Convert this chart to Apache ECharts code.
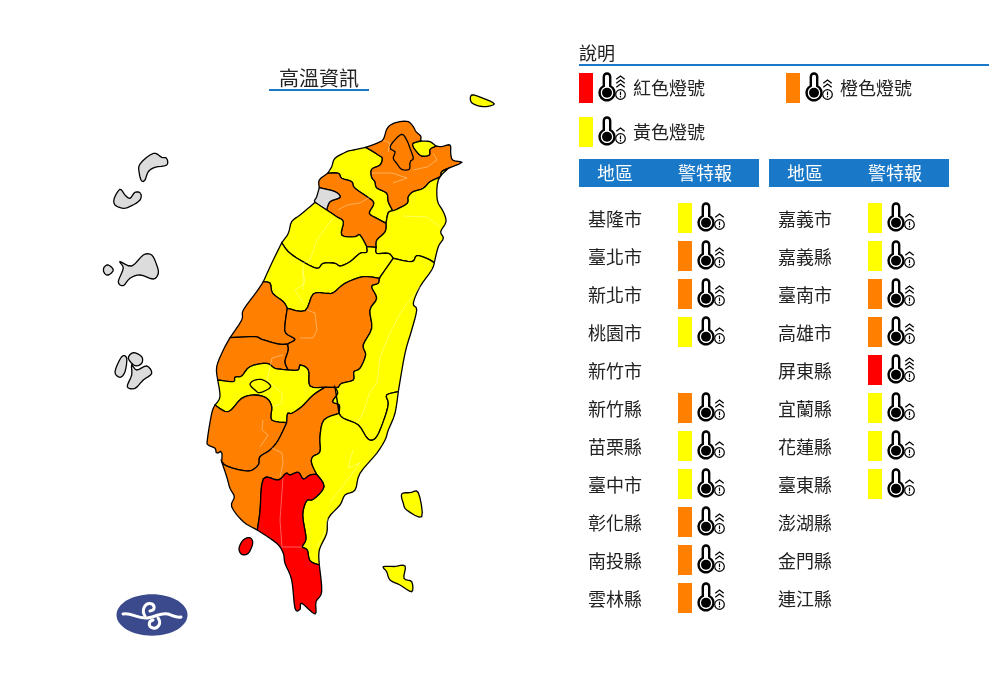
<!DOCTYPE html>
<html>
<head>
<meta charset="utf-8">
<title>高溫資訊</title>
<script src="https://cdn.jsdelivr.net/npm/echarts@6/dist/echarts.min.js"></script>
<style>
html, body { margin: 0; padding: 0; background: #fff; }
#chart { width: 997px; height: 699px; }
</style>
</head>
<body>
<div id="chart"></div>
<script>
// 0 = no alert, 1 = yellow, 2 = orange, 3 = red
var regionsLeft = ['基隆市', '臺北市', '新北市', '桃園市', '新竹市', '新竹縣', '苗栗縣', '臺中市', '彰化縣', '南投縣', '雲林縣'];
var levelsLeft = [1, 2, 2, 1, 0, 2, 1, 1, 2, 2, 2];
var regionsRight = ['嘉義市', '嘉義縣', '臺南市', '高雄市', '屏東縣', '宜蘭縣', '花蓮縣', '臺東縣', '澎湖縣', '金門縣', '連江縣'];
var levelsRight = [1, 1, 2, 2, 3, 1, 1, 1, 0, 0, 0];
var legendNames = ['紅色燈號', '橙色燈號', '黃色燈號'];
var legendLevels = [3, 2, 1];
var levelColors = ['#dcdcdc', '#ffff00', '#ff8000', '#ff0000'];

// county outlines, traced in page pixels; shared borders are kept once
var tyCoast = [[365.7,147.3],[353.3,150],[346.7,151.7],[335,158.3],[331.7,166.7],[327.7,173.3]];
var tyHc = [[327.7,173.3],[338.3,173.3],[341.7,178.3],[351.7,181.7],[355,188.3],[371.7,200],[373.3,205],[369.3,213.3],[376.7,218.3],[386,223.3]];
var tyYl = [[386,223.3],[388.3,212.7],[392.7,210.7]];
var tyNtp = [[392.7,210.7],[388.3,201.7],[386.7,193.3],[376.7,187.7],[375,181.7],[371.7,177.3],[371.7,169.3],[380,165],[382.3,158.3],[378.3,155],[373.3,151.7],[365.7,147.3]];
var ntpNorth = [[365.7,147.3],[376.7,143.3],[383.3,139.3],[386.7,129.3],[391.7,124.3],[400,121.7],[408.3,121.7],[413.3,126.7],[416,131.7],[420.7,136],[420.7,140],[421.7,141]];
var klInner = [[421.7,141],[413.3,143.3],[413.3,146.7],[416.7,151.7],[421.7,156],[429.3,155],[430,149.3],[436,146]];
var klCoast = [[436,146],[430,141.7],[421.7,141]];
var ntpEast = [[436,146],[441.7,146.7],[450,145],[450.7,153.3],[452.7,160],[461.7,162.3],[455,165.7],[448.3,168.3]];
var ntpYl = [[448.3,168.3],[441.7,171.7],[440,176.7],[430,181.7],[423.3,188.3],[413.3,191.7],[408.3,196.7],[407.3,203.3],[396.7,209.3],[392.7,210.7]];
var ylCoast = [[448.3,168.3],[438.3,180],[437.3,200],[443.3,211.7],[446,221.7],[440.7,231.7],[443.3,238.3],[438.3,246.7],[434.3,262.7]];
var ylHl = [[434.3,262.7],[426.7,258.3],[416.7,255.7],[411.7,261.7],[393.3,258.3]];
var ylTc = [[393.3,258.3],[388.3,253.3],[376.7,253.3],[376,247.3]];
var ylHc = [[376,247.3],[376.7,240],[385,231.7],[386,223.3]];
var hcCoast = [[327.7,173.3],[319.3,180],[319.3,187.7]];
var cityInner = [[319.3,187.7],[335,191.7],[340,197.3],[330,201.7],[326.7,210]];
var cityCoast = [[319.3,187.7],[316.7,196.7],[315,202.3],[326.7,210]];
var hcMl = [[326.7,210],[336.7,216.7],[343.3,221.7],[341.7,235],[355,236.7],[360,235],[366.7,246.7]];
var mlCoast = [[315,202.3],[310,206.7],[300,215],[291.7,221.7],[288.3,233.3],[281.7,242.7]];
var mlTc = [[281.7,242.7],[288.3,251.7],[300,260],[316.7,268.3],[323.3,263.3],[335,263.3],[340,266],[350,261.7],[360,253.3],[366.7,252.3],[366.7,246.7]];
var tcCoast = [[281.7,242.7],[271.7,263.3],[263.3,281.7]];
var tcCh = [[263.3,281.7],[270,283.3],[272.7,293.3],[283.3,301.7],[287.3,308.3]];
var tcNt = [[287.3,308.3],[305,310.7],[313.3,294],[326.7,293.3],[333.3,292.7],[345,283.3],[363.3,276.7],[379.3,278.3]];
var tcHl = [[379.3,278.3],[385,270],[393.3,258.3]];
var chCoast = [[263.3,281.7],[256.7,291.7],[243.3,310],[241.7,320],[230,337.7]];
var chYun = [[230,337.7],[255,336.7],[261.7,339.3],[278.3,344],[287.3,344]];
var chNt = [[287.3,344],[295,339.3],[286,333.3],[285,325],[287.3,308.3]];
var yunCoast = [[230,337.7],[223.3,350],[216.7,366.7],[217.7,380]];
var yunCy = [[217.7,380],[233.3,381.7],[235,377.3],[241.7,376],[250,366.7],[266.7,363.3],[275,368.3],[288.3,370]];
var yunNt = [[288.3,370],[285,361.7],[288.3,350],[287.3,344]];
var ntHl = [[379.3,278.3],[378.3,283.3],[371.7,286.7],[376.7,298.3],[370,310],[371.7,328.3],[363.3,345],[365.7,355],[360,368.3],[354,371.7],[353.3,380],[341.7,383.3],[338.3,387.3],[335,387.3]];
var ntKs = [[335,387.3],[325,387.3]];
var ntCy = [[325,387.3],[310,386],[308.3,370],[300,365],[298.3,370],[288.3,370]];
var cyCoast = [[217.7,380],[220,396.7],[215,405]];
var cyTn = [[215,405],[228.3,411.7],[241.7,398.3],[255,395],[266.7,398.3],[271.7,406.7],[271.7,420],[286.7,422.7]];
var cyKs = [[286.7,422.7],[287.7,413.3],[291.7,413.3],[301.7,406.7],[313.3,395],[325,387.3]];
var tnCoast = [[215,405],[211.7,413.3],[207.3,440],[208.3,445],[215,448.3],[216.7,453.3],[221.7,451.7],[221.7,461.7]];
var tnKs = [[221.7,461.7],[228.3,466.7],[248.3,471],[258.3,465],[260,456.7],[270,450],[278.3,440],[286.7,422.7]];
var ksCoast = [[221.7,461.7],[226.7,476.7],[230,488.3],[234.3,496.7],[231.7,506.7],[243.3,521.7],[257.3,530]];
var ksPt = [[257.3,530],[260,511.7],[263.3,479],[278.3,480],[286,473.3],[290,475],[298.3,472.3],[303.3,479],[310,475],[316.7,474.3]];
var ksTt = [[316.7,474.3],[311.7,463.3],[312.7,456.7],[320,451.7],[320,436.7],[324,420],[339,413.3]];
var ksHl = [[339,413.3],[339.3,405],[332.7,401.7],[337.7,393.3],[335,387.3]];
var hlCoast = [[434.3,262.7],[431.7,270],[420,286.7],[413.3,303.3],[416.7,310],[411.7,330],[405,353.3],[398.3,391.7]];
var hlTt = [[398.3,391.7],[386.7,395],[388.3,403.3],[385,416.7],[376.7,436.7],[368.3,439.3],[358.3,425],[343.3,418.3],[339,413.3]];
var ttCoast = [[398.3,391.7],[395,413.3],[388.3,430],[385,440],[376.7,453.3],[360,473.3],[355,490],[345,495],[340,505],[328.3,518.3],[326.7,533.3],[319.3,550],[319.3,565]];
var ttPt = [[319.3,565],[310,560.7],[307.3,550],[302.3,546.7],[306,538.3],[302.7,515],[306.7,500.7],[313.3,499.3],[324,486.7],[316.7,474.3]];
var ptCoast = [[257.3,530],[276.7,543.3],[283.3,553.3],[285,563.3],[291.7,580],[295,608.3],[300,609.3],[301.7,603.3],[315,614],[316,601.7],[321.7,591.7],[319.3,565]];

var taipeiRing = [[401.7,134.3],[406.7,140],[410,148.3],[413.3,158.3],[410,161.7],[409.3,169.3],[401.7,169.3],[396.7,163.3],[393.3,158.3],[395,151.7],[390,148.3],[393.3,141.7]];
var chiayiCityRing = [[250,384.3],[255,380],[263.3,380],[270.7,386.7],[260,392.7],[255,390]];
var liuqiuRing = [[250,537.7],[252.7,543.3],[248.3,553.3],[241.7,554.3],[239,548.3],[243.3,540]];
var greenRing = [[401.7,494],[410,492.7],[418.3,492.7],[421.7,516.7],[406.7,510],[403.3,503.3]];
var orchidRing = [[383.3,566.7],[394,566.5],[405,566],[404,578.3],[411.7,581.7],[411.7,591.7],[400,585],[390,580],[386.7,571.7]];
var guishanRing = [[471.7,95],[483.3,98.3],[494.3,104],[483.3,106.7],[471.7,102.7]];
var matsuRings = [
    [[153.3,153.3],[161.7,157.3],[166.7,158.3],[166.7,165],[155,167.3],[148.3,171.7],[145,180],[141.7,181],[139.3,173.3],[140,164]],
    [[120,189.3],[125,195],[130,198.3],[135,192.3],[140.7,193.3],[140,200],[131.7,205.7],[123.3,208.3],[115,205],[114.3,198.3]]
];
var kinmenRings = [
    [[108.3,265],[113.3,270],[108.3,275],[104,272.7],[104,267.3]],
    [[120,261.7],[131.7,266],[143.3,255],[151.7,255],[156.7,265],[158.3,273.3],[153.3,279],[140,275],[130,278.3],[123.3,285.7],[118.3,281.7],[123.3,268.3]]
];
var penghuRings = [
    [[121.7,356.7],[126.7,358.3],[125,371.7],[120,377.3],[115,371.7]],
    [[133.3,352.7],[141.7,356.7],[141.7,363.3],[135,365.7],[128.3,358.3]],
    [[131.7,365],[136.7,370],[146.7,366],[151.7,373.3],[143.3,380],[135,388.3],[127.3,386.7],[131.7,375]]
];

// faint township lines inside the counties
var townLines = [
    [[383,140],[390,143],[388,152]],
    [[372,173],[392,173],[407,178],[393,183]],
    [[433,153],[437,160],[427,167],[413,170]],
    [[338,210],[347,205],[360,203],[370,197]],
    [[333,218],[317,240],[310,260],[303,263],[303,290]],
    [[403,216],[427,217],[440,227]],
    [[307,310],[315,313],[317,330],[313,338],[300,338]],
    [[303,270],[305,283],[295,290],[303,303]],
    [[420,287],[402,310],[390,333],[380,357],[377,383],[370,392],[363,413],[357,423]],
    [[283,355],[272,358],[267,380],[282,393],[282,403],[273,407]],
    [[263,420],[262,430],[268,435],[260,447]],
    [[272,448],[282,453],[283,463],[280,477]],
    [[283,478],[280,520],[282,547],[302,547]],
    [[353,450],[348,468],[360,463],[342,487],[330,502]],
    [[328,518],[323,537],[317,547]]
];

function rev(a) { return a.slice().reverse(); }
function spline(p0, p1, p2, p3, t) {
    return [0, 1].map(function (k) {
        return 0.5 * (2 * p1[k] + (p2[k] - p0[k]) * t +
            (2 * p0[k] - 5 * p1[k] + 4 * p2[k] - p3[k]) * t * t +
            (3 * p1[k] - p0[k] - 3 * p2[k] + p3[k]) * t * t * t);
    });
}
// round a traced border, its end points stay where they are
function curve(pts) {
    var out = [], n = pts.length;
    for (var i = 0; i < n - 1; i++) {
        for (var s = 0; s < 4; s++) {
            out.push(spline(pts[Math.max(i - 1, 0)], pts[i], pts[i + 1], pts[Math.min(i + 2, n - 1)], s / 4));
        }
    }
    out.push(pts[n - 1]);
    return out;
}
function ring() {
    var out = [];
    for (var i = 0; i < arguments.length; i++) out = out.concat(curve(arguments[i]));
    out.push(out[0]);
    return out;
}
// same for a closed island
function soft(pts) {
    var out = [], n = pts.length;
    for (var i = 0; i < n; i++) {
        for (var s = 0; s < 4; s++) {
            out.push(spline(pts[(i + n - 1) % n], pts[i], pts[(i + 1) % n], pts[(i + 2) % n], s / 4));
        }
    }
    out.push(out[0]);
    return out;
}

var shapes = {
    '桃園市': [ring(tyCoast, tyHc, tyYl, tyNtp)],
    '新北市': [ring(ntpNorth, klInner, ntpEast, ntpYl, tyNtp)],
    '基隆市': [ring(klInner, klCoast)],
    '臺北市': [soft(taipeiRing)],
    '宜蘭縣': [ring(ylCoast, ylHl, ylTc, ylHc, tyYl, rev(ntpYl)), soft(guishanRing)],
    '新竹縣': [ring(hcCoast, cityInner, hcMl, ylHc, rev(tyHc))],
    '新竹市': [ring(cityCoast, rev(cityInner))],
    '苗栗縣': [ring(mlCoast, mlTc, rev(hcMl))],
    '臺中市': [ring(tcCoast, tcCh, tcNt, tcHl, ylTc, rev(mlTc))],
    '彰化縣': [ring(chCoast, chYun, chNt, rev(tcCh))],
    '雲林縣': [ring(yunCoast, yunCy, yunNt, rev(chYun))],
    '南投縣': [ring(tcNt, ntHl, ntKs, ntCy, yunNt, chNt)],
    '嘉義縣': [ring(cyCoast, cyTn, cyKs, ntCy, rev(yunCy))],
    '嘉義市': [soft(chiayiCityRing)],
    '臺南市': [ring(tnCoast, tnKs, rev(cyTn))],
    '高雄市': [ring(ksCoast, ksPt, ksTt, ksHl, ntKs, rev(cyKs), rev(tnKs))],
    '花蓮縣': [ring(hlCoast, hlTt, rev(ksHl), rev(ntHl), tcHl, rev(ylHl))],
    '臺東縣': [ring(ttCoast, ttPt, ksTt, rev(hlTt)), soft(greenRing), soft(orchidRing)],
    '屏東縣': [ring(ptCoast, ttPt, rev(ksPt)), soft(liuqiuRing)],
    '連江縣': matsuRings.map(soft),
    '金門縣': kinmenRings.map(soft),
    '澎湖縣': penghuRings.map(soft)
};

var features = [], minX = 1e9, minY = 1e9, maxX = -1e9, maxY = -1e9;
Object.keys(shapes).forEach(function (name) {
    shapes[name].forEach(function (r) {
        r.forEach(function (p) {
            minX = Math.min(minX, p[0]); maxX = Math.max(maxX, p[0]);
            minY = Math.min(minY, p[1]); maxY = Math.max(maxY, p[1]);
        });
    });
    features.push({
        type: 'Feature',
        properties: { name: name },
        geometry: { type: 'MultiPolygon', coordinates: shapes[name].map(function (r) { return [r]; }) }
    });
});
echarts.registerMap('taiwan', { type: 'FeatureCollection', features: features });

var allNames = regionsLeft.concat(regionsRight);
var allLevels = levelsLeft.concat(levelsRight);

var FONT = '"Noto Sans CJK TC"';
var BLUE = '#1a78c8';
var TEXT = '#222';

function line(x1, y1, x2, y2, w) {
    return { type: 'line', shape: { x1: x1, y1: y1, x2: x2, y2: y2 }, style: { stroke: '#000', lineWidth: w, fill: null } };
}

// thermometer with 1-3 chevrons, origin on the tube centre
function iconGroup(level, x, y) {
    var kids = [
        { type: 'path', shape: { pathData: 'M-3.2,-2 L-3.2,-11.3 A3.2,3.2 0 0 1 3.2,-11.3 L3.2,-2 A7.5,7.5 0 1 1 -3.2,-2 Z' },
            style: { fill: '#fff', stroke: '#000', lineWidth: 2.4 } },
        { type: 'circle', shape: { cx: 0, cy: 4.8, r: 5 }, style: { fill: '#000' } },
        { type: 'circle', shape: { cx: 13.5, cy: 6.5, r: 4.8 }, style: { fill: '#fff', stroke: '#000', lineWidth: 1.2 } },
        line(13.5, 3.6, 13.5, 7.2, 1.2),
        line(13.5, 8, 13.5, 9.4, 1.2)
    ];
    var tops = [-4, -8, -12];
    for (var i = 0; i < level; i++) {
        kids.push({
            type: 'polyline',
            shape: { points: [[9.3, tops[i] + 3.2], [13.5, tops[i]], [17.7, tops[i] + 3.2]] },
            style: { stroke: '#000', lineWidth: 1.3, fill: null }
        });
    }
    return { type: 'group', x: x, y: y, children: kids };
}

function swatch(level, x, y) {
    return { type: 'rect', shape: { x: x, y: y, width: 14, height: 30 }, style: { fill: levelColors[level] } };
}

// swatches sit one pixel above the text of their row
function renderRow(params, api) {
    var level = api.value(2);
    if (!level) return null;
    var p = api.coord([0, api.value(1)]);
    return {
        type: 'group',
        children: [swatch(level, p[0] + 99, p[1] - 16), iconGroup(level, p[0] + 127, p[1] - 1)]
    };
}

var legendSpots = [[579, 73], [786, 73], [579, 117]];
function renderLegend(params, api) {
    var level = api.value(0), s = legendSpots[params.dataIndex];
    return {
        type: 'group',
        children: [swatch(level, s[0], s[1]), iconGroup(level, s[0] + 28, s[1] + 15)]
    };
}

function renderLogo() {
    var white = { fill: null, stroke: '#fff', lineWidth: 3, lineCap: 'round' };
    return {
        type: 'group',
        children: [
            { type: 'ellipse', shape: { cx: 152, cy: 615, rx: 35.5, ry: 20.7 }, style: { fill: '#3a4a8c' } },
            { type: 'path', shape: { pathData: 'M123,614 C131,612 137,619 147,618 C156,617 161,612 168,614 C173,616 177,618 181,617' }, style: white },
            { type: 'path', shape: { pathData: 'M145,616 C141,610 145,603 150,603.5 C155,604 156,610 150,611' }, style: white },
            { type: 'path', shape: { pathData: 'M158,618 C162,623 158,629 153,628 C148,627 148,621 153,620' }, style: white }
        ]
    };
}

function tableText(text, x, y, color) {
    return { type: 'text', x: x, y: y, style: { text: text, font: '18px ' + FONT, fill: color || TEXT, align: 'center', verticalAlign: 'middle' } };
}
function headerCell(x) {
    return [
        { type: 'rect', shape: { x: x, y: 159, width: 180, height: 28 }, style: { fill: BLUE } },
        tableText('地區', x + 36, 173, '#fff'),
        tableText('警特報', x + 126, 173, '#fff')
    ];
}

function rowAxis(names, idx) {
    return {
        type: 'category', gridIndex: idx, inverse: true, data: names,
        axisLine: { show: false }, axisTick: { show: false }, splitLine: { show: false },
        axisLabel: { inside: true, margin: 9, color: TEXT, fontFamily: FONT, fontSize: 18, interval: 0 }
    };
}
function rowData(names, levels) {
    return names.map(function (n, i) { return [0, i, levels[i]]; });
}

var chart = echarts.init(document.getElementById('chart'));
chart.setOption({
    animation: false,
    backgroundColor: '#fff',
    geo: {
        map: 'taiwan',
        projection: { project: function (p) { return p; }, unproject: function (p) { return p; } },
        left: minX, top: minY, width: maxX - minX, height: maxY - minY,
        roam: false, silent: true,
        itemStyle: { borderColor: '#000', borderWidth: 1.3 },
        emphasis: { disabled: true },
        regions: allNames.map(function (n, i) {
            return { name: n, itemStyle: { areaColor: levelColors[allLevels[i]] } };
        })
    },
    grid: [
        { left: 579, top: 200, width: 180, height: 418 },
        { left: 769, top: 200, width: 180, height: 418 }
    ],
    xAxis: [
        { type: 'value', gridIndex: 0, min: 0, max: 1, show: false },
        { type: 'value', gridIndex: 1, min: 0, max: 1, show: false }
    ],
    yAxis: [rowAxis(regionsLeft, 0), rowAxis(regionsRight, 1)],
    series: [
        {
            type: 'lines', coordinateSystem: 'geo', polyline: true, silent: true,
            lineStyle: { color: '#fff', opacity: 0.45, width: 0.8 },
            data: townLines.map(function (l) { return { coords: l }; })
        },
        { type: 'custom', xAxisIndex: 0, yAxisIndex: 0, renderItem: renderRow, silent: true, encode: { x: 0, y: 1 }, data: rowData(regionsLeft, levelsLeft) },
        { type: 'custom', xAxisIndex: 1, yAxisIndex: 1, renderItem: renderRow, silent: true, encode: { x: 0, y: 1 }, data: rowData(regionsRight, levelsRight) },
        { type: 'custom', coordinateSystem: 'none', renderItem: renderLegend, silent: true, data: legendLevels.map(function (l) { return [l]; }) },
        { type: 'custom', coordinateSystem: 'none', renderItem: renderLogo, silent: true, data: [[0]] }
    ],
    graphic: {
        elements: [
            { type: 'text', x: 319, y: 78, style: { text: '高溫資訊', font: '20px ' + FONT, fill: TEXT, align: 'center', verticalAlign: 'middle' } },
            { type: 'rect', shape: { x: 269, y: 89, width: 100, height: 2 }, style: { fill: BLUE } },
            { type: 'text', x: 579, y: 53, style: { text: '說明', font: '18px ' + FONT, fill: TEXT, align: 'left', verticalAlign: 'middle' } },
            { type: 'rect', shape: { x: 579, y: 64, width: 410, height: 2 }, style: { fill: BLUE } },
            tableText(legendNames[0], 669, 88),
            tableText(legendNames[1], 876, 88),
            tableText(legendNames[2], 669, 132)
        ].concat(headerCell(579), headerCell(769))
    }
});
</script>
</body>
</html>
